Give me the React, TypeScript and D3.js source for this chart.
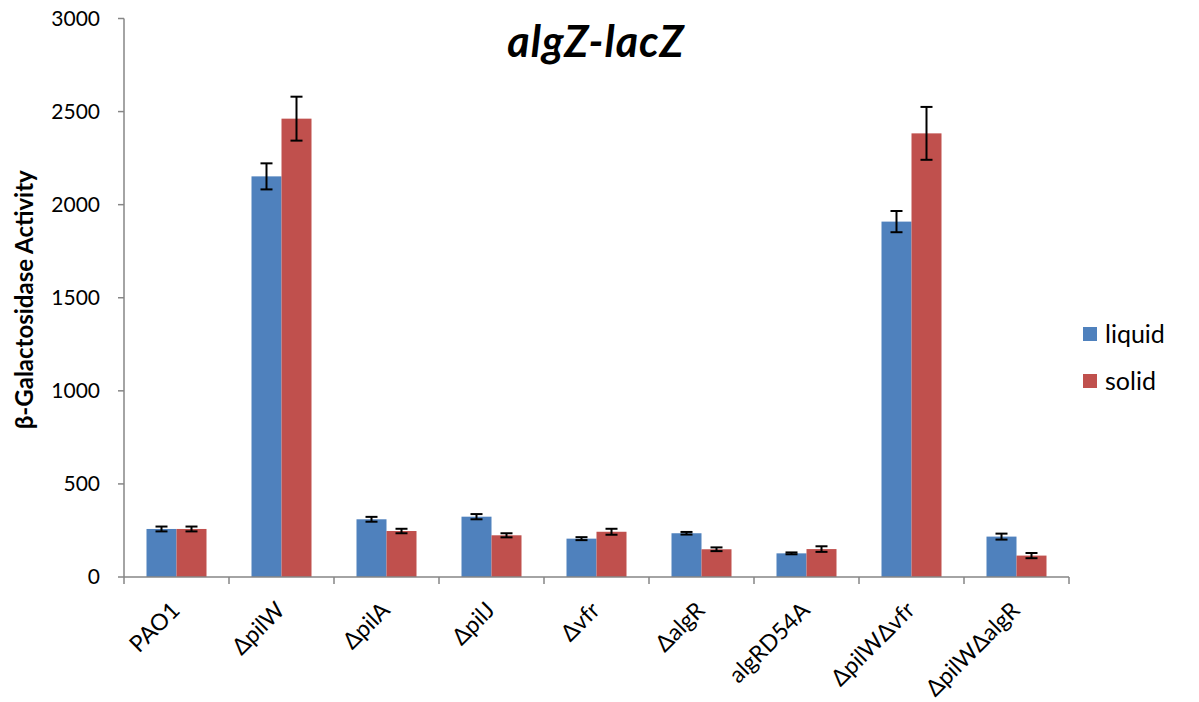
import React from "react";
import * as d3 from "d3";

const categories = ["PAO1", "ΔpilW", "ΔpilA", "ΔpilJ", "Δvfr", "ΔalgR", "algRD54A", "ΔpilWΔvfr", "ΔpilWΔalgR"];
const liquid = [258, 2152, 310, 324, 206, 235, 127, 1909, 217];
const liquidErr = [13, 70, 13, 14, 8, 7, 5, 57, 16];
const solid = [258, 2462, 247, 224, 243, 149, 150, 2383, 115];
const solidErr = [13, 118, 12, 11, 16, 10, 15, 142, 14];
const yTicks = [0, 500, 1000, 1500, 2000, 2500, 3000];
const seriesNames = ["liquid", "solid"];
const colors = ["#4F81BD", "#C0504D"];

const W = 1199, H = 702;
const FONT = "Lato, 'Open Sans', sans-serif";

export default function App() {
  const x0 = 124, x1 = 1069;
  const x = d3.scaleBand<string>().domain(categories).range([x0, x1]).paddingInner(0).paddingOuter(0);
  const y = d3.scaleLinear().domain([0, 3000]).range([577, 18.5]);
  const groupW = x.bandwidth() * 0.5714;
  const xs = d3.scaleBand<string>().domain(seriesNames).range([0, groupW]);
  const series = [
    { name: "liquid", vals: liquid, errs: liquidErr },
    { name: "solid", vals: solid, errs: solidErr },
  ];
  const axisColor = "#868686";
  return (
    <svg width={W} height={H} style={{ position: "absolute", left: 0, top: 0, background: "#fff" }} fontFamily={FONT}>
      {/* bars */}
      {series.map((s, si) =>
        categories.map((c, i) => {
          const bx = (x(c) as number) + (x.bandwidth() - groupW) / 2 + (xs(s.name) as number);
          const by = y(s.vals[i]);
          const cx = bx + xs.bandwidth() / 2;
          return (
            <g key={s.name + c}>
              <rect x={bx} y={by} width={xs.bandwidth()} height={y(0) - by} fill={colors[si]} />
              <line x1={cx} x2={cx} y1={y(s.vals[i] + s.errs[i])} y2={y(s.vals[i] - s.errs[i])} stroke="#000" strokeWidth={2} />
              <line x1={cx - 6} x2={cx + 6} y1={y(s.vals[i] + s.errs[i])} y2={y(s.vals[i] + s.errs[i])} stroke="#000" strokeWidth={2} />
              <line x1={cx - 6} x2={cx + 6} y1={y(s.vals[i] - s.errs[i])} y2={y(s.vals[i] - s.errs[i])} stroke="#000" strokeWidth={2} />
            </g>
          );
        })
      )}
      {/* y axis */}
      <line x1={x0} x2={x0} y1={y(0)} y2={y(3000)} stroke={axisColor} strokeWidth={1.5} />
      {yTicks.map((t) => (
        <g key={t}>
          <line x1={x0 - 6} x2={x0} y1={y(t)} y2={y(t)} stroke={axisColor} strokeWidth={1.5} />
          <text x={x0 - 24} y={y(t)} dy="0.35em" textAnchor="end" fontSize={21} fill="#000">{t}</text>
        </g>
      ))}
      {/* x axis */}
      <line x1={x0} x2={x1} y1={y(0)} y2={y(0)} stroke={axisColor} strokeWidth={1.5} />
      {[...categories.map((c) => x(c) as number), x1].map((tx, i) => (
        <line key={i} x1={tx} x2={tx} y1={y(0)} y2={y(0) + 7} stroke={axisColor} strokeWidth={1.5} />
      ))}
      {categories.map((c) => {
        const cx = (x(c) as number) + x.bandwidth() / 2;
        return (
          <text key={c} transform={`translate(${cx - 1},${606}) rotate(-45)`} textAnchor="end" dy="0.35em" fontSize={23} fill="#000">{c}</text>
        );
      })}
      {/* y axis title */}
      <text transform={`translate(33,${y(1500) + 2}) rotate(-90)`} textAnchor="middle" fontSize={24} fontWeight="bold" fill="#000">β-Galactosidase Activity</text>
      {/* title */}
      <text x={596} y={57} textAnchor="middle" fontSize={43} fontWeight="bold" fontStyle="italic" letterSpacing={1} fill="#000">algZ-lacZ</text>
      {/* legend */}
      {seriesNames.map((n, i) => (
        <g key={n} transform={`translate(1083,${327 + i * 47})`}>
          <rect x={0} y={0} width={14} height={14} fill={colors[i]} />
          <text x={22} y={7} dy="0.35em" fontSize={25} fill="#000">{n}</text>
        </g>
      ))}
    </svg>
  );
}
